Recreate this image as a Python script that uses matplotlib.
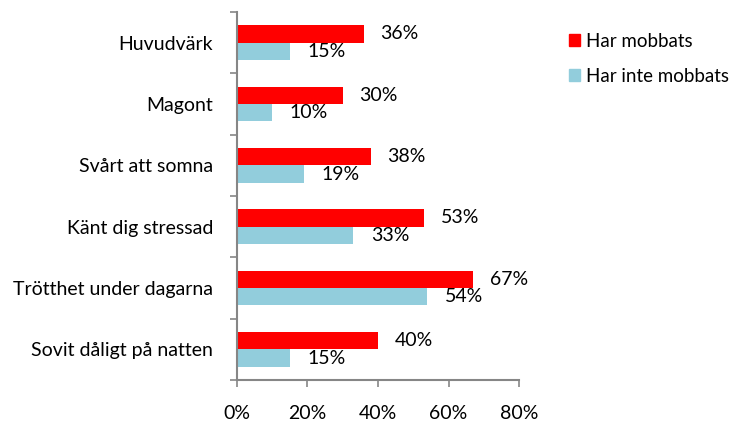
import matplotlib.pyplot as plt
import numpy as np
from matplotlib.patches import Patch

categories = ["Huvudvärk", "Magont", "Svårt att somna", "Känt dig stressad",
              "Trötthet under dagarna", "Sovit dåligt på natten"]
har_mobbats = [36, 30, 38, 53, 67, 40]
har_inte_mobbats = [15, 10, 19, 33, 54, 15]
series_names = ["Har mobbats", "Har inte mobbats"]
xticks = [0, 20, 40, 60, 80]

RED = "#ff0000"
BLUE = "#92cddc"
AXIS = "#868686"
FS = 14

plt.rcParams['font.family'] = ['Lato', 'DejaVu Sans']

fig = plt.figure(figsize=(7.38, 4.25), dpi=100)
ax = fig.add_axes([0.3211, 0.1059, 0.7033 - 0.3211, 0.9718 - 0.1059])

n = len(categories)
pos = np.arange(n)[::-1]  # first category at the top
h = 0.285

ax.barh(pos + h / 2, har_mobbats, height=h, color=RED)
ax.barh(pos - h / 2, har_inte_mobbats, height=h, color=BLUE)

for y, v in zip(pos, har_mobbats):
    ax.annotate(f"{v}%", (v, y + h / 2), xytext=(12, 0), textcoords="offset points",
                va="center", ha="left", fontsize=FS, color="#000000")
for y, v in zip(pos, har_inte_mobbats):
    ax.annotate(f"{v}%", (v, y - h / 2), xytext=(12.5, 0), textcoords="offset points",
                va="center", ha="left", fontsize=FS, color="#000000")

ax.set_xlim(0, 80)
ax.set_ylim(-0.5, n - 0.5)
ax.set_xticks(xticks)
ax.set_xticklabels([f"{t}%" for t in xticks], fontsize=FS)

# category labels sit between the boundary ticks
ax.set_yticks(np.arange(-0.5, n, 1.0))
ax.set_yticklabels([])
ax.set_yticks(pos, categories, minor=True)
ax.tick_params(axis="y", which="minor", length=0, pad=17, labelsize=FS)
ax.tick_params(axis="y", which="major", length=5, width=1.2, color=AXIS, direction="out")
ax.tick_params(axis="x", length=5, width=1.2, color=AXIS, direction="out", pad=13)

for s in ["top", "right"]:
    ax.spines[s].set_visible(False)
for s in ["left", "bottom"]:
    ax.spines[s].set_color(AXIS)
    ax.spines[s].set_linewidth(1.5)

handles = [Patch(color=RED), Patch(color=BLUE)]
fig.legend(handles, series_names, loc="upper left", bbox_to_anchor=(0.748, 0.962),
           frameon=False, fontsize=13.5, handlelength=0.6, handleheight=0.6,
           handletextpad=0.3, labelspacing=0.95)

fig.savefig("out.png", dpi=100)
